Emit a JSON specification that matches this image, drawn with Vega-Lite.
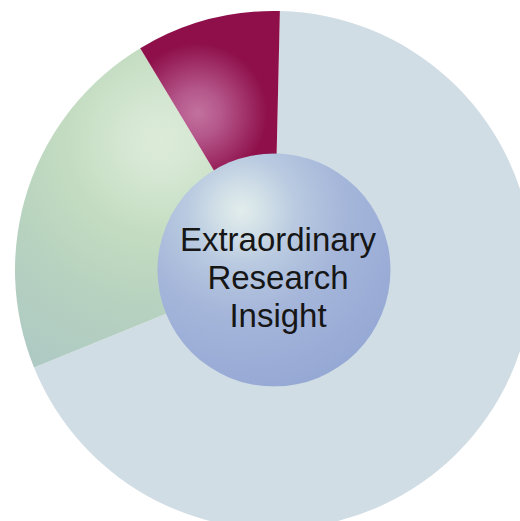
{
  "$schema": "https://vega.github.io/schema/vega-lite/v6.json",
  "autosize": {"type": "none"},
  "width": 492,
  "height": 502,
  "padding": {"left": 28, "top": 19, "right": 0, "bottom": 0},
  "background": "#ffffff",
  "config": {"view": {"stroke": null}},
  "layer": [
    {
      "data": {
        "values": [
          {"segment": "Major", "rank": 1, "share": 68.5},
          {"segment": "Secondary", "rank": 2, "share": 22.5},
          {"segment": "Minor", "rank": 3, "share": 9.0}
        ]
      },
      "mark": {"type": "arc", "outerRadius": 259, "strokeWidth": 0},
      "encoding": {
        "theta": {
          "field": "share",
          "type": "quantitative",
          "stack": true,
          "scale": {"range": [0.0227, 6.3059]}
        },
        "order": {"field": "rank", "type": "quantitative"},
        "detail": {"field": "segment"},
        "fill": {
          "condition": [
            {
              "test": "datum.segment === 'Minor'",
              "value": {
                "gradient": "radial",
                "x1": 0.452, "y1": 0.394, "r1": 0,
                "x2": 0.452, "y2": 0.394, "r2": 0.27,
                "stops": [
                  {"offset": 0, "color": "#c2729f"},
                  {"offset": 0.35, "color": "#b4568a"},
                  {"offset": 0.7, "color": "#a03068"},
                  {"offset": 1, "color": "#8e0f4a"}
                ]
              }
            },
            {
              "test": "datum.segment === 'Secondary'",
              "value": {
                "gradient": "radial",
                "x1": 0.55, "y1": 0.29, "r1": 0,
                "x2": 0.55, "y2": 0.29, "r2": 0.85,
                "stops": [
                  {"offset": 0, "color": "#dcebd7"},
                  {"offset": 0.12, "color": "#d6e8d3"},
                  {"offset": 0.35, "color": "#c3dcc1"},
                  {"offset": 0.6, "color": "#b7d2bf"},
                  {"offset": 1, "color": "#adc8c4"}
                ]
              }
            }
          ],
          "value": "#d0dde5"
        }
      }
    },
    {
      "data": {"values": [{"label": "Extraordinary Research Insight"}]},
      "layer": [
        {
          "mark": {
            "type": "point",
            "shape": "circle",
            "filled": true,
            "size": 54289,
            "opacity": 1,
            "strokeWidth": 0,
            "fill": {
              "gradient": "radial",
              "x1": 0.36, "y1": 0.245, "r1": 0,
              "x2": 0.36, "y2": 0.245, "r2": 0.8,
              "stops": [
                {"offset": 0, "color": "#e2ecec"},
                {"offset": 0.1, "color": "#d5e3e8"},
                {"offset": 0.3, "color": "#b8c9e0"},
                {"offset": 0.55, "color": "#a5b6da"},
                {"offset": 1, "color": "#95a8d4"}
              ]
            }
          },
          "encoding": {}
        },
        {
          "mark": {
            "type": "text",
            "font": "Liberation Sans",
            "fontSize": 33,
            "color": "#161616",
            "align": "center",
            "baseline": "alphabetic",
            "dx": 4,
            "dy": -19,
            "lineHeight": 38,
            "lineBreak": " "
          },
          "encoding": {
            "text": {"field": "label"}
          }
        }
      ]
    }
  ]
}
